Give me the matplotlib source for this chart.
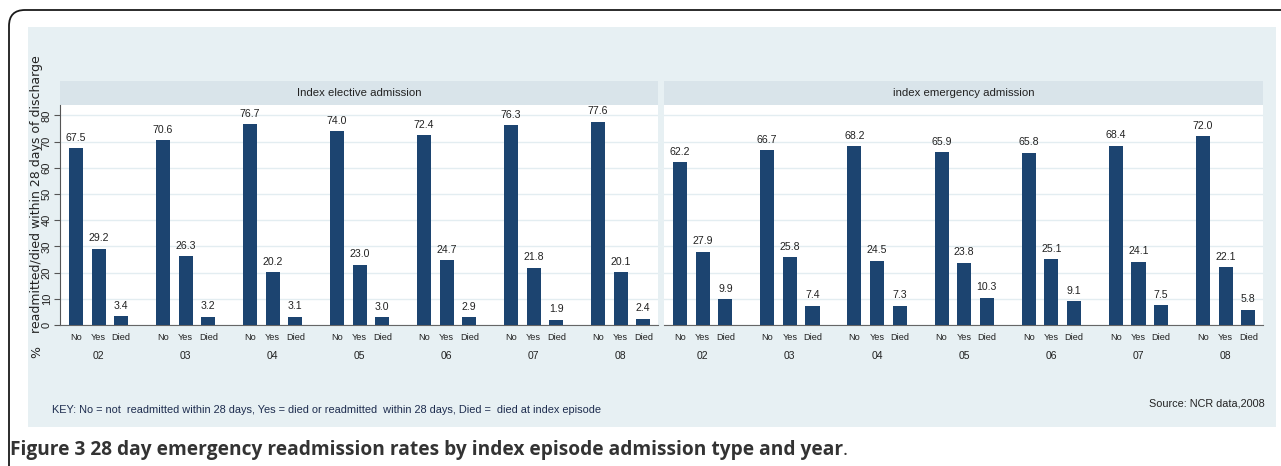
import numpy as np
import matplotlib.pyplot as plt
from matplotlib.patches import Rectangle, FancyBboxPatch
from matplotlib import transforms

plt.rcParams['font.family'] = ['Liberation Sans', 'DejaVu Sans']

# Data
years = ['02', '03', '04', '05', '06', '07', '08']
outcomes = ['No', 'Yes', 'Died']
elective = {
    'No':   [67.5, 70.6, 76.7, 74.0, 72.4, 76.3, 77.6],
    'Yes':  [29.2, 26.3, 20.2, 23.0, 24.7, 21.8, 20.1],
    'Died': [3.4, 3.2, 3.1, 3.0, 2.9, 1.9, 2.4],
}
emergency = {
    'No':   [62.2, 66.7, 68.2, 65.9, 65.8, 68.4, 72.0],
    'Yes':  [27.9, 25.8, 24.5, 23.8, 25.1, 24.1, 22.1],
    'Died': [9.9, 7.4, 7.3, 10.3, 9.1, 7.5, 5.8],
}
panel_titles = ['Index elective admission', 'index emergency admission']

W, H = 1281, 466
BAR = '#1c4470'
TXT = '#222222'

fig = plt.figure(figsize=(W / 100, H / 100), dpi=100)


def px(x0, y0, x1, y1):
    return [x0 / W, 1 - y1 / H, (x1 - x0) / W, (y1 - y0) / H]


# canvas in pixel units for the frame, backgrounds and notes
bg = fig.add_axes([0, 0, 1, 1], zorder=0)
bg.set_xlim(0, W)
bg.set_ylim(H, 0)
bg.axis('off')
bg.add_patch(FancyBboxPatch((9, 10), 1320, 520, boxstyle='round,pad=0,rounding_size=16',
                            fc='white', ec='#1a1a1a', lw=1.3))
bg.add_patch(Rectangle((28, 27), 1248, 400, fc='#e7f0f3', ec='none'))
strips = [(60, 658), (664, 1263)]
for (x0, x1), title in zip(strips, panel_titles):
    bg.add_patch(Rectangle((x0, 81), x1 - x0, 24, fc='#d9e4ea', ec='none'))
    bg.text((x0 + x1) / 2, 93, title, ha='center', va='center', fontsize=8.2, color=TXT)

bg.text(37, 352, '%', rotation=90, ha='center', va='center', fontsize=9, color=TXT,
        family='DejaVu Sans')
bg.text(37, 194, 'readmitted/died within 28 days of discharge', rotation=90,
        ha='center', va='center', fontsize=9, color=TXT, family='DejaVu Sans')
bg.text(52, 410, 'KEY: No = not  readmitted within 28 days, Yes = died or readmitted  within 28 days, '
        'Died =  died at index episode', ha='left', va='center', fontsize=7.9, color='#1e2d4f')
bg.text(1265, 403, 'Source: NCR data,2008', ha='right', va='center', fontsize=7.8, color=TXT)

cap = bg.text(10, 450, 'Figure 3 28 day emergency readmission rates by index episode admission type and year',
              ha='left', va='center', fontsize=13.8, fontweight='bold', color='#333333',
              family='Open Sans')
bg.annotate('.', xy=(1, 0.5), xycoords=cap, va='center', ha='left', fontsize=13.8,
            color='#333333', family='Open Sans')

# bar positions
G = 3.85
gx = np.arange(len(years)) * G
width = 0.62

for i, (data, (x0, x1)) in enumerate(zip([elective, emergency], strips)):
    ax = fig.add_axes(px(x0, 105, x1, 325), zorder=1)
    for b, key in enumerate(outcomes):
        bars = ax.bar(gx + b, data[key], width=width, color=BAR, zorder=3)
        ax.bar_label(bars, fmt='%.1f', padding=4, fontsize=7.6, color=TXT)
    ax.set_xlim(-0.71, gx[-1] + 2 + 0.65)
    ax.set_ylim(0, 84)
    ax.set_yticks(np.arange(0, 81, 10))
    ax.grid(axis='y', color='#e3edf1', lw=1)
    ax.set_axisbelow(True)
    xt = np.concatenate([gx + b for b in range(3)])
    xl = [o for o in outcomes for _ in years]
    ax.set_xticks(xt)
    ax.set_xticklabels(xl, fontsize=6.6, color=TXT)
    ax.tick_params(axis='x', length=0, pad=6)
    trans = transforms.blended_transform_factory(ax.transData, ax.transAxes)
    for g, yr in zip(gx, years):
        ax.text(g + 1, -0.14, yr, transform=trans, ha='center', va='center', fontsize=7.5, color=TXT)
    for s in ['top', 'right']:
        ax.spines[s].set_visible(False)
    ax.spines['bottom'].set_color('#666666')
    if i == 0:
        ax.spines['left'].set_color('#555555')
        ax.tick_params(axis='y', length=4, color='#555555', labelsize=8, labelcolor=TXT,
                       labelrotation=90, pad=2)
        for lab in ax.get_yticklabels():
            lab.set_va('center')
    else:
        ax.spines['left'].set_visible(False)
        ax.tick_params(axis='y', length=0, labelleft=False)

fig.savefig('out.png', dpi=100)
